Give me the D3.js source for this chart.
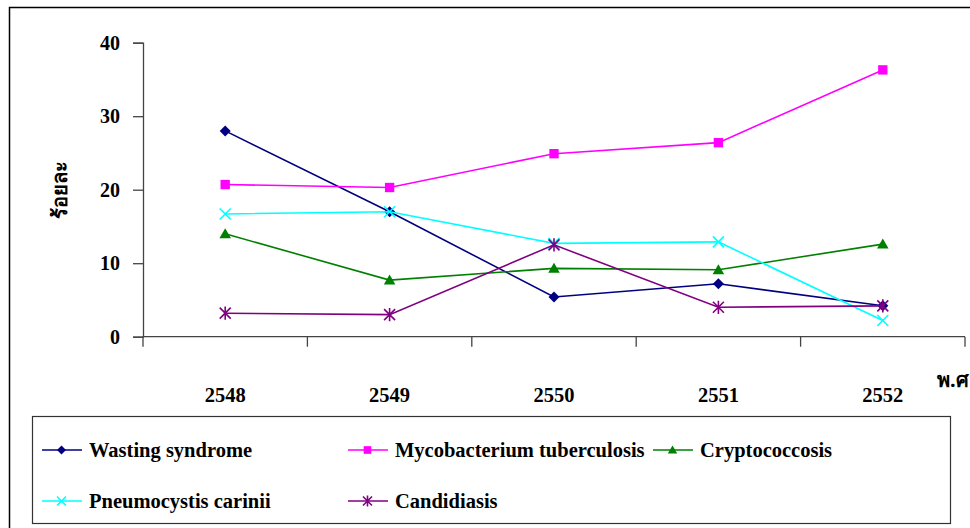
<!DOCTYPE html>
<html>
<head>
<meta charset="utf-8">
<script src="https://cdn.jsdelivr.net/npm/d3@7/dist/d3.min.js"></script>
<style>
  html, body { margin: 0; padding: 0; background: #fff; }
  svg { display: block; }
  .serif { font-family: "Liberation Serif", "Tinos", "Times New Roman", "DejaVu Serif", serif; font-weight: bold; fill: #000; }
  .thai { font-family: "Noto Sans", "DejaVu Sans", sans-serif; font-weight: bold; fill: #000; }
</style>
</head>
<body>
<svg id="chart" width="970" height="528"></svg>
<script>
// Years (Buddhist era) on the x axis
const years = ["2548", "2549", "2550", "2551", "2552"];
const yTicks = [0, 10, 20, 30, 40];

// Percent of cases per opportunistic infection
const wasting      = [28.0, 17.0, 5.4, 7.2, 4.2];
const mycobacteria = [20.7, 20.3, 24.9, 26.4, 36.3];
const cryptococcus = [14.0, 7.7, 9.3, 9.1, 12.6];
const pneumocystis = [16.7, 17.0, 12.7, 12.9, 2.2];
const candidiasis  = [3.2, 3.0, 12.5, 4.0, 4.2];

const seriesNames = ["Wasting syndrome", "Mycobacterium tuberculosis", "Cryptococcosis",
                     "Pneumocystis carinii", "Candidiasis"];
const seriesValues = [wasting, mycobacteria, cryptococcus, pneumocystis, candidiasis];
const seriesColors = ["#000080", "#ff00ff", "#008000", "#00ffff", "#800080"];
const seriesMarkers = ["diamond", "square", "triangle", "cross", "star"];

const svg = d3.select("#chart");

// outer frame
svg.append("rect").attr("x", 9.5).attr("y", 7.5).attr("width", 980).attr("height", 540)
  .attr("fill", "none").attr("stroke", "#000").attr("stroke-width", 1.5);

const x = d3.scaleBand().domain(years).range([143, 965]);
const y = d3.scaleLinear().domain([0, 40]).range([336.7, 42.7]);

// y axis
const yAxis = svg.append("g").attr("transform", "translate(143,0)")
  .call(d3.axisLeft(y).tickValues(yTicks).tickSize(10).tickPadding(13));
yAxis.attr("font-family", null).attr("font-size", null);
yAxis.select(".domain").attr("stroke", "#444").attr("stroke-width", 1.3);
yAxis.selectAll(".tick line").attr("stroke", "#444").attr("stroke-width", 1.3);
yAxis.selectAll(".tick text").attr("class", "serif").style("font-size", "20px");

// x axis: ticks on band edges, labels centered below
const xAxisG = svg.append("g").attr("transform", "translate(0,336.7)");
xAxisG.append("line").attr("x1", 143).attr("x2", 965).attr("y1", 0).attr("y2", 0)
  .attr("stroke", "#444").attr("stroke-width", 1.3);
const edges = years.map(d => x(d)).concat([x.range()[1]]);
xAxisG.selectAll("line.tk").data(edges).join("line").attr("class", "tk")
  .attr("x1", d => d).attr("x2", d => d).attr("y1", 0).attr("y2", 10)
  .attr("stroke", "#444").attr("stroke-width", 1.3);
xAxisG.selectAll("text").data(years).join("text").attr("class", "serif")
  .attr("x", d => x(d) + x.bandwidth() / 2).attr("y", 65)
  .attr("text-anchor", "middle").style("font-size", "20.5px").text(d => d);

// axis titles
svg.append("text").attr("class", "thai").attr("transform", "translate(67,190) rotate(-90)")
  .attr("text-anchor", "middle").style("font-size", "20px").text("ร้อยละ");
svg.append("text").attr("class", "thai").attr("x", 937).attr("y", 387)
  .style("font-size", "20px").text("พ.ศ");

// marker shapes
function marker(g, type, color, s) {
  if (type === "diamond") {
    g.append("path").attr("d", `M0,${-s}L${s},0L0,${s}L${-s},0Z`).attr("fill", color);
  } else if (type === "square") {
    g.append("rect").attr("x", -s * 0.85).attr("y", -s * 0.85).attr("width", s * 1.7).attr("height", s * 1.7).attr("fill", color);
  } else if (type === "triangle") {
    g.append("path").attr("d", `M0,${-s}L${s * 1.05},${s * 0.8}L${-s * 1.05},${s * 0.8}Z`).attr("fill", color);
  } else if (type === "cross") {
    g.append("path").attr("d", `M${-s},${-s}L${s},${s}M${-s},${s}L${s},${-s}`)
      .attr("stroke", color).attr("stroke-width", 1.6);
  } else if (type === "star") {
    g.append("path").attr("d", `M${-s},${-s}L${s},${s}M${-s},${s}L${s},${-s}M0,${-s * 1.2}L0,${s * 1.2}`)
      .attr("stroke", color).attr("stroke-width", 1.6);
  }
}

const line = d3.line().x((d, i) => x(years[i]) + x.bandwidth() / 2).y(d => y(d));

seriesValues.forEach((vals, k) => {
  const g = svg.append("g");
  g.append("path").attr("d", line(vals)).attr("fill", "none")
    .attr("stroke", seriesColors[k]).attr("stroke-width", 1.6);
  vals.forEach((v, i) => {
    const mg = g.append("g").attr("transform", `translate(${x(years[i]) + x.bandwidth() / 2},${y(v)})`);
    marker(mg, seriesMarkers[k], seriesColors[k], 5.5);
  });
});

// legend
const legend = svg.append("g");
legend.append("rect").attr("x", 32.5).attr("y", 416.5).attr("width", 918).attr("height", 107)
  .attr("fill", "none").attr("stroke", "#333").attr("stroke-width", 1.2);
const legendPos = [[42, 450], [348, 450], [653, 450], [42, 501], [348, 501]];
seriesNames.forEach((name, k) => {
  const [lx, ly] = legendPos[k];
  const g = legend.append("g").attr("transform", `translate(${lx},${ly})`);
  g.append("line").attr("x1", 0).attr("x2", 40).attr("y1", 0).attr("y2", 0)
    .attr("stroke", seriesColors[k]).attr("stroke-width", 1.6);
  const mg = g.append("g").attr("transform", "translate(19.5,0)");
  marker(mg, seriesMarkers[k], seriesColors[k], 4.5);
  g.append("text").attr("class", "serif").attr("x", 47).attr("y", 6.5)
    .style("font-size", "20.5px").text(name);
});
</script>
</body>
</html>
